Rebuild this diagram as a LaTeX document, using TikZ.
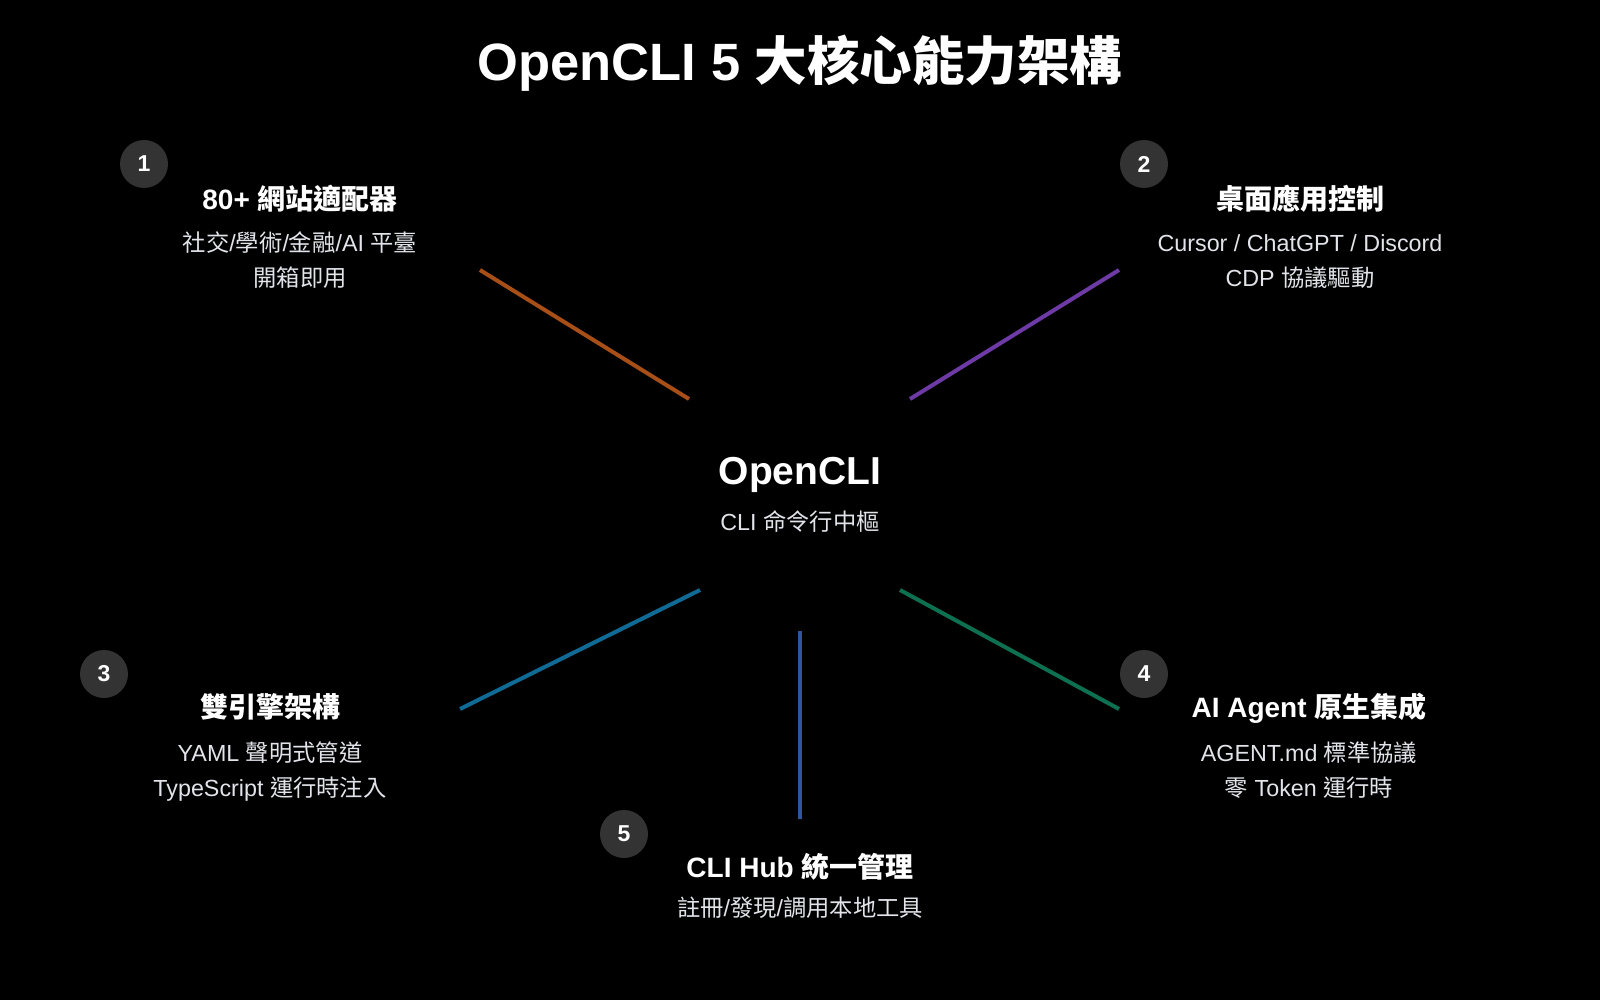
\documentclass[tikz,border=0pt]{standalone}
\usepackage{fontspec}
\setmainfont{Liberation Sans}
\newfontfamily\cjk{Noto Sans CJK TC}
\newcommand{\zh}[1]{{\cjk #1}}

\definecolor{dotgray}{HTML}{333333}
\definecolor{subgray}{HTML}{E2E4EA}
\definecolor{lnorange}{HTML}{A84E17}
\definecolor{lnpurple}{HTML}{6E3AA6}
\definecolor{lnteal}{HTML}{0F6A95}
\definecolor{lngreen}{HTML}{0D7050}
\definecolor{lnblue}{HTML}{2E559F}

\tikzset{
	heading/.style={inner sep=0, text=white, text height=38pt, text depth=0pt, font=\fontsize{52.5}{52.5}\selectfont\bfseries},
	hubtitle/.style={inner sep=0, text=white, text height=28pt, text depth=0pt, font=\fontsize{39}{39}\selectfont\bfseries},
	itemtitle/.style={inner sep=0, text=white, text height=20pt, text depth=0pt, font=\fontsize{28}{28}\selectfont\bfseries},
	subtext/.style={inner sep=0, text=subgray, text height=16.5pt, text depth=0pt, font=\fontsize{23.3}{23.3}\selectfont},
	numdot/.style={circle, fill=dotgray, minimum size=48pt, inner sep=0, text=white, font=\fontsize{23}{23}\selectfont\bfseries},
	spoke/.style={line width=4pt}
}

\begin{document}
\begin{tikzpicture}[x=1pt,y=-1pt]

	%Background
	\fill[black] (0,0) rectangle (1600,1000);

	%Title
	\node[heading] (title) at (800,62) {OpenCLI 5 \zh{大核心能力架構}};

	%Hub
	\node[hubtitle] (hub) at (800,470) {OpenCLI};
	\node[subtext] (hubsub) at (800,522) {CLI \zh{命令行中樞}};

	%1
	\node[numdot] (n1) at (144,164) {1};
	\node[itemtitle] (t1) at (300,200) {80+ \zh{網站適配器}};
	\node[subtext] (s1a) at (300,243) {\zh{社交}/\zh{學術}/\zh{金融}/AI \zh{平臺}};
	\node[subtext] (s1b) at (300,278) {\zh{開箱即用}};

	%2
	\node[numdot] (n2) at (1144,164) {2};
	\node[itemtitle] (t2) at (1300,200) {\zh{桌面應用控制}};
	\node[subtext] (s2a) at (1300,243) {Cursor / ChatGPT / Discord};
	\node[subtext] (s2b) at (1300,278) {CDP \zh{協議驅動}};

	%3
	\node[numdot] (n3) at (104,674) {3};
	\node[itemtitle] (t3) at (270,707) {\zh{雙引擎架構}};
	\node[subtext] (s3a) at (270,753) {YAML \zh{聲明式管道}};
	\node[subtext] (s3b) at (270,788) {TypeScript \zh{運行時注入}};

	%4
	\node[numdot] (n4) at (1144,674) {4};
	\node[itemtitle] (t4) at (1309,707) {AI Agent \zh{原生集成}};
	\node[subtext] (s4a) at (1309,753) {AGENT.md \zh{標準協議}};
	\node[subtext] (s4b) at (1309,788) {\zh{零} Token \zh{運行時}};

	%5
	\node[numdot] (n5) at (624,834) {5};
	\node[itemtitle] (t5) at (800,867) {CLI Hub \zh{統一管理}};
	\node[subtext] (s5a) at (800,908) {\zh{註冊}/\zh{發現}/\zh{調用本地工具}};

	%Spokes
	\coordinate (h1) at (689,399); \coordinate (e1) at (480,270);
	\coordinate (h2) at (910,399); \coordinate (e2) at (1119,270);
	\coordinate (h3) at (700,590); \coordinate (e3) at (460,709);
	\coordinate (h4) at (900,590); \coordinate (e4) at (1119,709);
	\coordinate (h5) at (800,631); \coordinate (e5) at (800,819);

	\draw[spoke, lnorange] (h1) -- (e1);
	\draw[spoke, lnpurple] (h2) -- (e2);
	\draw[spoke, lnteal] (h3) -- (e3);
	\draw[spoke, lngreen] (h4) -- (e4);
	\draw[spoke, lnblue] (h5) -- (e5);

\end{tikzpicture}
\end{document}
